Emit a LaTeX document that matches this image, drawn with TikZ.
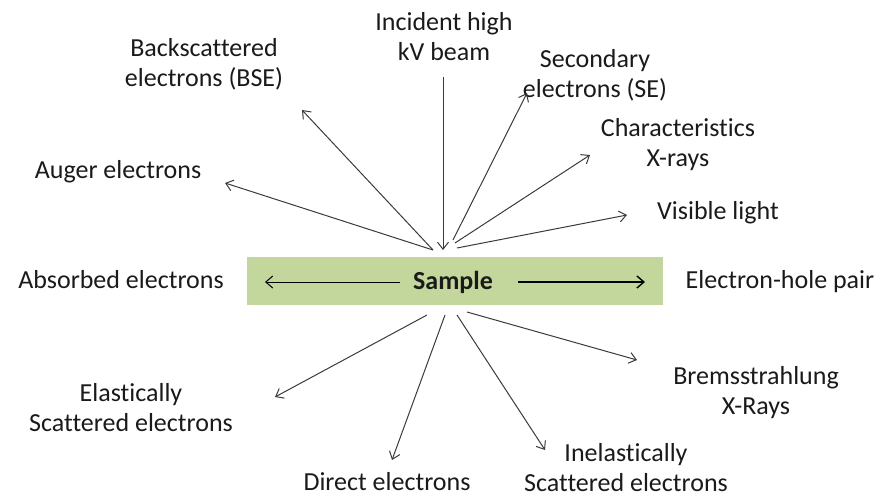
\documentclass[tikz,border=0pt]{standalone}
\usepackage{fontspec}
\setmainfont{Carlito}[Ligatures=NoCommon]
\usetikzlibrary{arrows.meta}
\definecolor{samplegreen}{HTML}{C3D69B}
\definecolor{txt}{HTML}{1A1A1A}
\definecolor{ray}{HTML}{3A3A3A}
\tikzset{
  lbl/.style={text=txt, font=\fontsize{26}{30}\selectfont, align=center, inner sep=0pt},
  rayarrow/.style={draw=ray, line width=1pt, -{Straight Barb[length=7pt,width=11pt]}},
  inarrow/.style={draw=black, line width=1.4pt, -{Straight Barb[length=7pt,width=12pt]}}
}
\begin{document}
\begin{tikzpicture}[x=1pt,y=-1pt]
\useasboundingbox (0,0) rectangle (884,498);
% sample box
\node[fill=samplegreen, minimum width=416pt, minimum height=48pt, inner sep=0pt] (box) at (455,281) {};
\node[lbl, font=\fontsize{26}{30}\selectfont\bfseries] (sample) at (453,282) {Sample};
\coordinate (sl1) at (400,282); \coordinate (sl2) at (265,282);
\coordinate (sr1) at (518,282); \coordinate (sr2) at (645,282);
\draw[inarrow, line width=1pt] (sl1) -- (sl2);
\draw[inarrow] (sr1) -- (sr2);

% labels
\node[lbl] (inc) at (444,37) {Incident high\\kV beam};
\node[lbl] (bse) at (204,64) {Backscattered\\electrons (BSE)};
\node[lbl] (se) at (595,75) {Secondary\\electrons (SE)};
\node[lbl] (chx) at (678,145) {Characteristics\\X-rays};
\node[lbl] (aug) at (118,172) {Auger electrons};
\node[lbl] (vis) at (718,213) {Visible light};
\node[lbl] (abs) at (121,280) {Absorbed electrons};
\node[lbl] (ehp) at (780,282) {Electron-hole pair};
\node[lbl] (brem) at (756,393) {Bremsstrahlung\\X-Rays};
\node[lbl] (ela) at (131,408) {Elastically\\Scattered electrons};
\node[lbl] (dir) at (387,482) {Direct electrons};
\node[lbl] (inel) at (626,468) {Inelastically\\Scattered electrons};

% ray coordinates
\coordinate (incA) at (443,77);  \coordinate (incB) at (443,250);
\coordinate (oL) at (433,250);
\coordinate (bseT) at (302,110);
\coordinate (augT) at (225,183);
\coordinate (seO) at (453,240);  \coordinate (seT) at (527,93);
\coordinate (chO) at (455,243);  \coordinate (chT) at (590,155);
\coordinate (viO) at (457,248);  \coordinate (viT) at (627,215);
\coordinate (elO) at (427,315);  \coordinate (elT) at (275,397);
\coordinate (diO) at (445,315);  \coordinate (diT) at (392,460);
\coordinate (inO) at (457,315);  \coordinate (inT) at (545,450);
\coordinate (brO) at (467,312);  \coordinate (brT) at (637,360);

\draw[rayarrow] (incA) -- (incB);
\draw[rayarrow] (oL) -- (bseT);
\draw[rayarrow] (oL) -- (augT);
\draw[rayarrow] (seO) -- (seT);
\draw[rayarrow] (chO) -- (chT);
\draw[rayarrow] (viO) -- (viT);
\draw[rayarrow] (elO) -- (elT);
\draw[rayarrow] (diO) -- (diT);
\draw[rayarrow] (inO) -- (inT);
\draw[rayarrow] (brO) -- (brT);
\end{tikzpicture}
\end{document}
